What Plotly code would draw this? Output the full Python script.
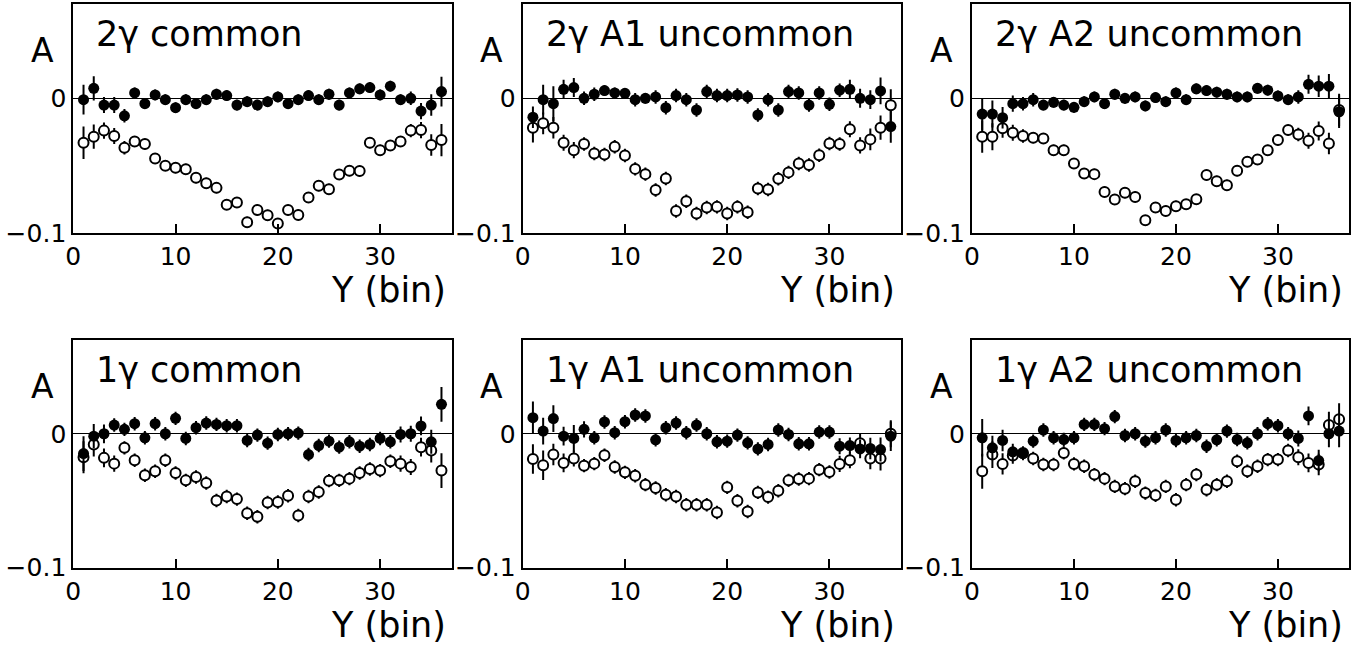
import plotly.graph_objects as go

bins = list(range(1, 37))

panel_titles = ["2γ common", "2γ A1 uncommon", "2γ A2 uncommon",
                "1γ common", "1γ A1 uncommon", "1γ A2 uncommon"]

x_tick_vals = [0, 10, 20, 30]
x_tick_text = ["0", "10", "20", "30"]
y_tick_vals = [-0.1, 0]
y_tick_text = ["\u22120.1", "0"]

# ---- 2γ common ----
a2c_full = [-0.001, 0.0074, -0.005, -0.005, -0.013, 0.004, -0.004, 0.0025, -0.001, -0.007,
            -0.001, -0.004, -0.001, 0.003, 0.002, -0.005, -0.0025, -0.005, -0.0025, 0.001,
            -0.004, -0.001, 0.002, -0.001, 0.003, -0.005, 0.004, 0.007, 0.008, 0.0025,
            0.009, -0.001, 0.0, -0.0095, -0.005, 0.005]
a2c_full_err = [0.011, 0.009, 0.006, 0.006, 0.005, 0.004, 0.004, 0.004, 0.004, 0.004,
                0.004, 0.004, 0.004, 0.004, 0.004, 0.004, 0.004, 0.004, 0.004, 0.004,
                0.004, 0.004, 0.004, 0.004, 0.004, 0.004, 0.004, 0.004, 0.004, 0.004,
                0.004, 0.004, 0.005, 0.006, 0.008, 0.011]
a2c_open = [-0.033, -0.0285, -0.024, -0.028, -0.0367, -0.032, -0.034, -0.0447, -0.050, -0.0516,
            -0.0526, -0.059, -0.063, -0.0665, -0.079, -0.0774, -0.092, -0.083, -0.0868, -0.093,
            -0.083, -0.0866, -0.0737, -0.065, -0.0675, -0.0566, -0.0538, -0.054, -0.033, -0.0385,
            -0.035, -0.032, -0.024, -0.0236, -0.0347, -0.031]
a2c_open_err = [0.012, 0.009, 0.006, 0.006, 0.005, 0.004, 0.004, 0.004, 0.004, 0.004,
                0.004, 0.004, 0.004, 0.004, 0.004, 0.004, 0.004, 0.004, 0.004, 0.004,
                0.004, 0.004, 0.004, 0.004, 0.004, 0.004, 0.004, 0.004, 0.004, 0.004,
                0.004, 0.004, 0.005, 0.006, 0.008, 0.012]

# ---- 2γ A1 uncommon ----
a2a1_full = [-0.014, -0.001, -0.004, 0.0067, 0.008, 0.0, 0.003, 0.0057, 0.004, 0.0037,
             -0.001, 0.0, 0.001, -0.007, 0.002, -0.001, -0.0087, 0.005, 0.002, 0.002,
             0.0025, 0.001, -0.0124, -0.001, -0.0087, 0.005, 0.004, -0.005, 0.004, -0.0045,
             0.006, 0.0067, 0.0, -0.001, 0.0055, -0.021]
a2a1_full_err = [0.008, 0.011, 0.013, 0.007, 0.007, 0.005, 0.005, 0.004, 0.004, 0.004,
                 0.005, 0.004, 0.005, 0.005, 0.005, 0.005, 0.005, 0.005, 0.005, 0.005,
                 0.005, 0.005, 0.005, 0.005, 0.005, 0.005, 0.005, 0.005, 0.005, 0.005,
                 0.005, 0.007, 0.007, 0.007, 0.010, 0.012]
a2a1_open = [-0.0218, -0.0186, -0.0218, -0.033, -0.0385, -0.034, -0.041, -0.0417, -0.036, -0.0424,
             -0.0524, -0.0563, -0.068, -0.0596, -0.0836, -0.0764, -0.0856, -0.081, -0.0806, -0.0856,
             -0.0806, -0.0846, -0.067, -0.0677, -0.0598, -0.055, -0.0484, -0.0496, -0.0422, -0.0335,
             -0.034, -0.023, -0.035, -0.0305, -0.0218, -0.0052]
a2a1_open_err = [0.011, 0.008, 0.008, 0.006, 0.006, 0.005, 0.005, 0.005, 0.005, 0.005,
                 0.005, 0.005, 0.005, 0.005, 0.005, 0.005, 0.005, 0.005, 0.005, 0.005,
                 0.005, 0.005, 0.005, 0.005, 0.005, 0.005, 0.005, 0.005, 0.005, 0.005,
                 0.005, 0.006, 0.006, 0.008, 0.009, 0.012]

# ---- 2γ A2 uncommon ----
a2a2_full = [-0.0117, -0.0117, -0.0144, -0.004, -0.004, -0.001, -0.005, -0.003, -0.005, -0.0067,
             -0.0025, 0.001, -0.004, 0.003, 0.0, 0.001, -0.0057, 0.0005, -0.0025, 0.004,
             -0.001, 0.007, 0.0057, 0.0045, 0.003, 0.001, 0.001, 0.0074, 0.006, 0.0017,
             -0.001, 0.001, 0.0104, 0.009, 0.009, -0.010]
a2a2_full_err = [0.012, 0.010, 0.008, 0.006, 0.005, 0.005, 0.004, 0.004, 0.004, 0.004,
                 0.004, 0.004, 0.004, 0.004, 0.004, 0.004, 0.004, 0.004, 0.004, 0.004,
                 0.004, 0.004, 0.004, 0.004, 0.004, 0.004, 0.004, 0.004, 0.004, 0.004,
                 0.004, 0.005, 0.007, 0.008, 0.009, 0.012]
a2a2_open = [-0.0285, -0.0285, -0.0223, -0.0256, -0.028, -0.0293, -0.0298, -0.0385, -0.0385, -0.0484,
             -0.0558, -0.0563, -0.0695, -0.0752, -0.0702, -0.0732, -0.0906, -0.0811, -0.0836, -0.0801,
             -0.0787, -0.075, -0.057, -0.0615, -0.0645, -0.0538, -0.0471, -0.0454, -0.0385, -0.031,
             -0.0236, -0.0268, -0.0315, -0.0243, -0.0335, -0.0087]
a2a2_open_err = [0.012, 0.010, 0.007, 0.006, 0.005, 0.004, 0.004, 0.004, 0.004, 0.004,
                 0.004, 0.004, 0.004, 0.004, 0.004, 0.004, 0.004, 0.004, 0.004, 0.004,
                 0.004, 0.004, 0.004, 0.004, 0.004, 0.004, 0.004, 0.004, 0.004, 0.004,
                 0.004, 0.005, 0.006, 0.007, 0.008, 0.012]

# ---- 1γ common ----
a1c_full = [-0.0148, -0.0018, 0.0, 0.0065, 0.0033, 0.0075, -0.003, 0.0075, 0.0, 0.0115,
            -0.0035, 0.0045, 0.008, 0.007, 0.006, 0.006, -0.005, -0.001, -0.007, -0.0005,
            0.0, 0.0005, -0.0155, -0.0088, -0.0055, -0.010, -0.006, -0.0093, -0.008, -0.0035,
            -0.006, -0.0005, 0.0, 0.0058, -0.006, 0.022]
a1c_full_err = [0.013, 0.009, 0.007, 0.005, 0.005, 0.005, 0.005, 0.005, 0.005, 0.005,
                0.005, 0.005, 0.005, 0.005, 0.005, 0.005, 0.005, 0.005, 0.005, 0.005,
                0.005, 0.005, 0.005, 0.005, 0.005, 0.005, 0.005, 0.005, 0.005, 0.005,
                0.005, 0.006, 0.006, 0.007, 0.009, 0.013]
a1c_open = [-0.0175, -0.008, -0.018, -0.0223, -0.0105, -0.0198, -0.031, -0.028, -0.0198, -0.0293,
            -0.0348, -0.0323, -0.0368, -0.0498, -0.0468, -0.0488, -0.0593, -0.062, -0.0513, -0.051,
            -0.0463, -0.061, -0.0468, -0.0435, -0.035, -0.0348, -0.0335, -0.0293, -0.0263, -0.0275,
            -0.0205, -0.0223, -0.0248, -0.010, -0.0125, -0.0275]
a1c_open_err = [0.012, 0.009, 0.007, 0.006, 0.005, 0.005, 0.005, 0.005, 0.005, 0.005,
                0.005, 0.005, 0.005, 0.005, 0.005, 0.005, 0.005, 0.005, 0.005, 0.005,
                0.005, 0.005, 0.005, 0.005, 0.005, 0.005, 0.005, 0.005, 0.005, 0.005,
                0.005, 0.006, 0.006, 0.007, 0.009, 0.013]

# ---- 1γ A1 uncommon ----
a1a1_full = [0.012, 0.002, 0.0113, -0.0018, -0.0035, 0.0033, -0.003, 0.0088, 0.0008, 0.009,
             0.014, 0.0133, -0.0045, 0.0045, 0.008, 0.0008, 0.0065, 0.0, -0.006, -0.0055,
             -0.001, -0.0068, -0.0113, -0.008, 0.0028, -0.0005, -0.0075, -0.0075, 0.0013, 0.0013,
             -0.0093, -0.0088, -0.0113, -0.011, -0.0118, -0.0018]
a1a1_full_err = [0.012, 0.010, 0.010, 0.007, 0.010, 0.006, 0.005, 0.005, 0.005, 0.005,
                 0.005, 0.005, 0.005, 0.005, 0.005, 0.005, 0.005, 0.005, 0.005, 0.005,
                 0.005, 0.005, 0.005, 0.005, 0.005, 0.005, 0.005, 0.005, 0.005, 0.005,
                 0.006, 0.006, 0.007, 0.008, 0.009, 0.011]
a1a1_open = [-0.0188, -0.0235, -0.0155, -0.0218, -0.0185, -0.0238, -0.0223, -0.016, -0.0248, -0.0288,
             -0.0313, -0.038, -0.0405, -0.0455, -0.0468, -0.053, -0.053, -0.053, -0.0588, -0.040,
             -0.050, -0.058, -0.0438, -0.0473, -0.0425, -0.0348, -0.0338, -0.0335, -0.0268, -0.0285,
             -0.0225, -0.0198, -0.007, -0.0185, -0.0185, 0.0]
a1a1_open_err = [0.011, 0.011, 0.008, 0.007, 0.006, 0.005, 0.005, 0.005, 0.005, 0.005,
                 0.005, 0.005, 0.005, 0.005, 0.005, 0.005, 0.005, 0.005, 0.005, 0.005,
                 0.005, 0.005, 0.005, 0.005, 0.005, 0.005, 0.005, 0.005, 0.005, 0.005,
                 0.006, 0.006, 0.007, 0.008, 0.009, 0.010]

# ---- 1γ A2 uncommon ----
a1a2_full = [-0.003, -0.0105, -0.005, -0.0135, -0.0148, -0.0055, 0.0028, -0.003, -0.0043, -0.003,
             0.007, 0.007, 0.0038, 0.0128, -0.0013, 0.0, -0.0055, -0.003, 0.0028, -0.005,
             -0.003, -0.0013, -0.0093, -0.0045, 0.002, -0.0043, -0.0068, 0.0, 0.0075, 0.006,
             0.0, -0.0035, 0.0133, -0.020, 0.0, 0.002]
a1a2_full_err = [0.014, 0.009, 0.008, 0.006, 0.005, 0.005, 0.005, 0.005, 0.005, 0.005,
                 0.005, 0.005, 0.005, 0.005, 0.005, 0.005, 0.005, 0.005, 0.005, 0.005,
                 0.005, 0.005, 0.005, 0.005, 0.005, 0.005, 0.005, 0.005, 0.005, 0.005,
                 0.005, 0.006, 0.007, 0.008, 0.010, 0.012]
a1a2_open = [-0.028, -0.0155, -0.0225, -0.0163, -0.0143, -0.0185, -0.023, -0.023, -0.0143, -0.0225,
             -0.0243, -0.0305, -0.0335, -0.0393, -0.041, -0.0355, -0.0443, -0.046, -0.0393, -0.0493,
             -0.038, -0.0305, -0.0418, -0.038, -0.0355, -0.0205, -0.028, -0.0243, -0.0193, -0.0193,
             -0.0125, -0.0175, -0.0218, -0.023, 0.0065, 0.0108]
a1a2_open_err = [0.013, 0.010, 0.008, 0.006, 0.005, 0.005, 0.005, 0.005, 0.005, 0.005,
                 0.005, 0.005, 0.005, 0.005, 0.005, 0.005, 0.005, 0.005, 0.005, 0.005,
                 0.005, 0.005, 0.005, 0.005, 0.005, 0.005, 0.005, 0.005, 0.005, 0.005,
                 0.005, 0.006, 0.007, 0.008, 0.010, 0.012]

full_series = [a2c_full, a2a1_full, a2a2_full, a1c_full, a1a1_full, a1a2_full]
full_errors = [a2c_full_err, a2a1_full_err, a2a2_full_err, a1c_full_err, a1a1_full_err, a1a2_full_err]
open_series = [a2c_open, a2a1_open, a2a2_open, a1c_open, a1a1_open, a1a2_open]
open_errors = [a2c_open_err, a2a1_open_err, a2a2_open_err, a1c_open_err, a1a1_open_err, a1a2_open_err]

# ---- layout geometry (pixels) ----
W, H = 1371, 649
col_px = [(73.3, 451.7), (522.7, 901.0), (972.0, 1349.3)]
row_px = [(4.0, 233.0), (340.0, 567.7)]
FONT = "DejaVu Sans"

fig = go.Figure()
annotations = []
layout_axes = {}

for k in range(6):
    r, c = divmod(k, 3)
    x0, x1 = col_px[c]
    y0, y1 = row_px[r]
    xa = "xaxis" if k == 0 else f"xaxis{k + 1}"
    ya = "yaxis" if k == 0 else f"yaxis{k + 1}"
    xref = "x" if k == 0 else f"x{k + 1}"
    yref = "y" if k == 0 else f"y{k + 1}"

    layout_axes[xa] = dict(
        domain=[x0 / W, x1 / W], range=[0, 37], anchor=yref,
        showgrid=False, zeroline=False,
        showline=True, mirror=True, linecolor="black", linewidth=2,
        ticks="inside", ticklen=9, tickwidth=1.5, tickcolor="black",
        tickvals=x_tick_vals, ticktext=x_tick_text,
        tickfont=dict(family=FONT, size=25, color="black"),
        automargin=False,
    )
    layout_axes[ya] = dict(
        domain=[1 - y1 / H, 1 - y0 / H], range=[-0.1, 0.07], anchor=xref,
        showgrid=False, zeroline=True, zerolinecolor="black", zerolinewidth=1.2,
        showline=True, mirror=True, linecolor="black", linewidth=2,
        ticks="", tickvals=y_tick_vals, ticktext=y_tick_text,
        tickfont=dict(family=FONT, size=25, color="black"),
        automargin=False,
    )

    # open circles (white-filled so error bars stop at the rim)
    fig.add_trace(go.Scatter(
        x=bins, y=open_series[k], mode="markers", xaxis=xref, yaxis=yref,
        marker=dict(symbol="circle", size=10, color="white",
                    line=dict(color="black", width=2)),
        error_y=dict(type="data", array=open_errors[k], color="black",
                     thickness=2, width=0),
        showlegend=False,
    ))
    # filled circles
    fig.add_trace(go.Scatter(
        x=bins, y=full_series[k], mode="markers", xaxis=xref, yaxis=yref,
        marker=dict(symbol="circle", size=11, color="black",
                    line=dict(color="black", width=0)),
        error_y=dict(type="data", array=full_errors[k], color="black",
                     thickness=2, width=0),
        showlegend=False,
    ))

    # panel title inside the frame
    annotations.append(dict(
        text=panel_titles[k], xref="paper", yref="paper",
        x=(x0 + 21) / W, y=1 - (y0 + 30) / H, xanchor="left", yanchor="middle",
        showarrow=False, font=dict(family=FONT, size=35, color="black"),
    ))
    # y-axis label
    annotations.append(dict(
        text="A", xref="paper", yref="paper",
        x=(x0 - 31) / W, y=1 - (y0 + 46) / H, xanchor="center", yanchor="middle",
        showarrow=False, font=dict(family=FONT, size=33, color="black"),
    ))
    # x-axis label
    annotations.append(dict(
        text="Y (bin)", xref="paper", yref="paper",
        x=(x1 - 4) / W, y=1 - (y1 + 57) / H, xanchor="right", yanchor="middle",
        showarrow=False, font=dict(family=FONT, size=35, color="black"),
    ))

fig.update_layout(
    width=W, height=H,
    margin=dict(l=0, r=0, t=0, b=0),
    paper_bgcolor="white", plot_bgcolor="white",
    annotations=annotations,
    **layout_axes,
)

fig.write_html("out.html")
